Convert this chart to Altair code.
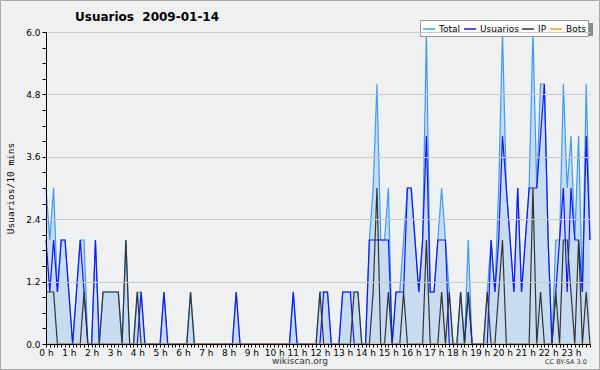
import altair as alt
import pandas as pd

# 10-minute slots, 6 per hour, 24 hours
usuarios = [
    2, 1, 2, 1, 2, 2,   # 0 h
    1, 0, 1, 2, 1, 0,   # 1 h
    0, 2, 0, 0, 0, 0,   # 2 h
    0, 0, 0, 0, 0, 0,   # 3 h
    0, 1, 0, 0, 0, 0,   # 4 h
    0, 1, 0, 0, 0, 0,   # 5 h
    0, 0, 0, 0, 0, 0,   # 6 h
    0, 0, 0, 0, 0, 0,   # 7 h
    0, 0, 1, 0, 0, 0,   # 8 h
    0, 0, 0, 0, 0, 0,   # 9 h
    0, 0, 0, 0, 0, 1,   # 10 h
    0, 0, 0, 0, 0, 0,   # 11 h
    0, 1, 1, 0, 0, 0,   # 12 h
    1, 1, 1, 0, 0, 0,   # 13 h
    0, 2, 2, 2, 2, 2,   # 14 h
    2, 0, 1, 1, 1, 3,   # 15 h
    3, 2, 1, 2, 4, 1,   # 16 h
    1, 2, 2, 2, 0, 0,   # 17 h
    0, 0, 0, 1, 0, 0,   # 18 h
    0, 0, 0, 2, 1, 2,   # 19 h
    4, 3, 2, 1, 3, 1,   # 20 h
    2, 3, 3, 3, 4, 5,   # 21 h
    2, 0, 1, 2, 3, 1,   # 22 h
    3, 2, 2, 1, 4, 2,   # 23 h
]
ip = [
    1, 1, 1, 0, 0, 0,
    0, 0, 0, 0, 1, 0,
    0, 0, 0, 1, 1, 1,
    1, 1, 0, 2, 0, 0,
    1, 0, 0, 0, 0, 0,
    0, 0, 0, 0, 0, 0,
    0, 0, 1, 0, 0, 0,
    0, 0, 0, 0, 0, 0,
    0, 0, 0, 0, 0, 0,
    0, 0, 0, 0, 0, 0,
    0, 0, 0, 0, 0, 0,
    0, 0, 0, 0, 0, 0,
    1, 0, 0, 0, 0, 0,
    0, 0, 0, 1, 1, 0,
    0, 0, 1, 3, 0, 0,
    1, 0, 0, 0, 1, 0,
    0, 0, 0, 0, 2, 0,
    0, 0, 1, 0, 1, 0,
    0, 1, 0, 1, 0, 0,
    0, 0, 1, 0, 0, 1,
    2, 0, 0, 0, 0, 0,
    0, 0, 3, 0, 1, 0,
    0, 0, 1, 0, 2, 2,
    1, 0, 2, 0, 1, 0,
]
total = [
    3, 2, 3, 1, 2, 2,
    1, 0, 1, 2, 2, 0,
    0, 2, 0, 1, 1, 1,
    1, 1, 0, 2, 0, 0,
    1, 1, 0, 0, 0, 0,
    0, 1, 0, 0, 0, 0,
    0, 0, 1, 0, 0, 0,
    0, 0, 0, 0, 0, 0,
    0, 0, 1, 0, 0, 0,
    0, 0, 0, 0, 0, 0,
    0, 0, 0, 0, 0, 1,
    0, 0, 0, 0, 0, 0,
    1, 1, 1, 0, 0, 0,
    1, 1, 1, 1, 1, 0,
    0, 2, 3, 5, 2, 2,
    3, 0, 1, 1, 2, 3,
    3, 2, 1, 2, 6, 1,
    1, 2, 3, 2, 1, 0,
    0, 1, 0, 2, 0, 0,
    0, 0, 1, 2, 1, 3,
    6, 3, 2, 1, 3, 1,
    2, 3, 6, 3, 5, 5,
    2, 0, 2, 2, 5, 3,
    4, 2, 4, 1, 5, 2,
]
bots = [0] * 144

series_names = ["Total", "Usuarios", "IP", "Bots"]
series_colors = ["#3d9cf2", "#1414ff", "#333333", "#ff9a1a"]
y_ticks = [0.0, 0.3, 0.6, 0.9, 1.2, 1.5, 1.8, 2.1, 2.4, 2.7, 3.0, 3.3, 3.6,
           3.9, 4.2, 4.5, 4.8, 5.1, 5.4, 5.7, 6.0]
slots = list(range(144))
chart_title = "Usuarios\u00a0 2009-01-14"

rows = []
for name, vals in zip(series_names, [total, usuarios, ip, bots]):
    for s, v in zip(slots, vals):
        rows.append({"slot": s, "serie": name, "valor": v})
df = pd.DataFrame(rows)

FONT = "DejaVu Sans"

x_enc = alt.X(
    "slot:Q",
    scale=alt.Scale(domain=[0, 143], nice=False, zero=False),
    axis=alt.Axis(
        values=slots,
        labelExpr="datum.value % 6 == 0 ? (datum.value / 6) + ' h' : ''",
        labelOverlap=False, labelFlush=False, labelBound=False,
        tickSize=3, labelPadding=1, labelFontSize=9, labelFont=FONT,
        labelColor="#000", tickColor="#000", domainColor="#000",
        grid=False, title=None, zindex=1,
    ),
)
y_enc = alt.Y(
    "valor:Q",
    scale=alt.Scale(domain=[0, 6], nice=False),
    axis=alt.Axis(
        values=y_ticks,
        labelExpr="round(datum.value * 10) % 12 == 0 ? format(datum.value, '.1f') : ''",
        labelOverlap=False, labelFlush=False, labelBound=False,
        gridOpacity={"condition": {"test": "round(datum.value * 10) % 12 == 0", "value": 1}, "value": 0},
        gridColor="#c8c8c8", grid=True,
        tickSize=4, labelPadding=2, labelFontSize=9, labelFont=FONT,
        labelColor="#000", tickColor="#000", domainColor="#000",
        title="Usuarios/10 mins", titleFont="DejaVu Sans Mono", titleFontSize=9.5,
        titleFontWeight="normal", titleColor="#000", titleAngle=-90,
        titleX=-36, titleY=156, titleAlign="center", titleBaseline="middle",
        zindex=1,
    ),
)
color_enc = alt.Color(
    "serie:N",
    scale=alt.Scale(domain=series_names, range=series_colors),
    legend=alt.Legend(
        orient="none", legendX=374, legendY=-12, direction="horizontal",
        title=None, symbolType="stroke", symbolSize=144, symbolStrokeWidth=1.5,
        labelFontSize=9, labelFont=FONT, labelColor="#000", labelOffset=3,
        columnPadding=0, padding=2, fillColor="white", strokeColor="#999",
    ),
)

base = alt.Chart(df)

area = base.transform_filter(alt.datum.serie == "Total").mark_area(
    color="#c7dcf0", opacity=1
).encode(x=x_enc, y=y_enc)

lines = [
    base.transform_filter(alt.datum.serie == name).mark_line(strokeWidth=1.2).encode(
        x=x_enc, y=y_enc, color=color_enc
    )
    for name in series_names
]

one = pd.DataFrame({"t": ["wikiscan.org"]})
credit = alt.Chart(one).mark_text(fontSize=9, font=FONT, color="#333").encode(
    text="t:N", x=alt.value(254), y=alt.value(329)
)
lic = alt.Chart(pd.DataFrame({"t": ["CC BY-SA 3.0"]})).mark_text(
    fontSize=6.5, font=FONT, color="#333"
).encode(text="t:N", x=alt.value(520), y=alt.value(330))
title = alt.Chart(pd.DataFrame({"t": [chart_title]})).mark_text(
    fontSize=12, font=FONT, fontWeight="bold", color="#000", align="left",
    baseline="alphabetic",
).encode(text="t:N", x=alt.value(29), y=alt.value(-11))

frame = alt.Chart(one).mark_rect(fillOpacity=0, stroke="#a8a8a8", strokeWidth=1).encode(
    x=alt.value(-45.5), x2=alt.value(553.5), y=alt.value(-31.5), y2=alt.value(337.5)
)
shadow = alt.Chart(one).mark_rect(fill="#8a8a8a").encode(
    x=alt.value(377), x2=alt.value(547), y=alt.value(-9), y2=alt.value(4)
)

chart = alt.layer(frame, area, *lines, shadow, credit, lic, title).properties(
    width=544, height=312,
    padding={"left": 46, "top": 32, "right": 10, "bottom": 26},
    autosize=alt.AutoSizeParams(type="none"),
).configure(background="#eff0f2").configure_view(strokeWidth=0)

chart.save("out.html", embed_options={"renderer": "svg", "actions": False})
